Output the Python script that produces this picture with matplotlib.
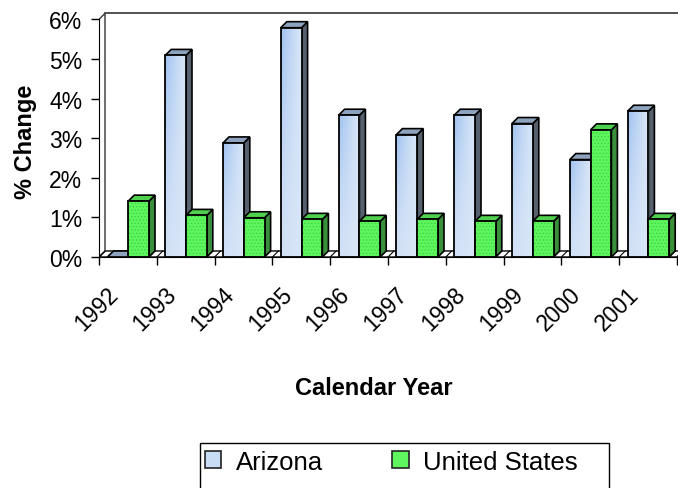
import numpy as np
import matplotlib
matplotlib.use("Agg")
import matplotlib.pyplot as plt
from matplotlib.patches import Polygon, Patch, Rectangle
from matplotlib.transforms import ScaledTranslation

plt.rcParams['font.family'] = ['Liberation Sans', 'DejaVu Sans']
plt.rcParams['hatch.linewidth'] = 0.6

# data (% change)
years = ['1992', '1993', '1994', '1995', '1996', '1997', '1998', '1999', '2000', '2001']
arizona = [0.0, 5.09, 2.88, 5.79, 3.58, 3.09, 3.58, 3.37, 2.46, 3.68]
united_states = [1.41, 1.05, 0.99, 0.95, 0.90, 0.95, 0.90, 0.90, 3.21, 0.95]
y_ticks = [0, 1, 2, 3, 4, 5, 6]
y_tick_labels = ['0%', '1%', '2%', '3%', '4%', '5%', '6%']

# 3d look: depth offset in data units
DX, DY = 0.104, 0.152
BW = 0.36
OFF = 0.145
n = len(years)

fig = plt.figure(figsize=(6.78, 4.89), dpi=100)
W, H = 678, 489
ax = fig.add_axes([99 / W, (H - 258) / H, (n + DX) * 57.8 / W, (6 + DY) * 39.6 / H])

# walls and floor
ax.add_patch(Polygon([(0, 0), (n, 0), (n + DX, DY), (DX, DY)], closed=True,
                     facecolor='white', edgecolor='black', lw=1.0, zorder=1))
ax.add_patch(Polygon([(0, 0), (0, 6), (DX, 6 + DY), (DX, DY)], closed=True,
                     facecolor='white', edgecolor='#333333', lw=1.0, zorder=1))
ax.plot([DX, n + DX + 1], [6 + DY, 6 + DY], color='#444444', lw=1.3, zorder=1, clip_on=False)
for i in range(n + 1):
    ax.plot([i, i + DX], [0, DY], color='black', lw=0.8, zorder=1.5)

light_az = np.array([0.85, 0.90, 0.97])
dark_az = np.array([0.62, 0.76, 0.94])
gx = np.linspace(0, 1, 40)[None, :]
gy = np.linspace(0, 1, 60)[:, None]
mix = (1 - gx) ** 1.2 * (0.15 + 0.85 * gy ** 1.5)
grad = light_az[None, None, :] + (dark_az - light_az)[None, None, :] * mix[..., None]
grad = grad[::-1]

z = 2
for i in range(n):
    for k, (vals, front, side, top) in enumerate([
            (arizona, '#d2e2f6', '#56606f', '#8ea3bd'),
            (united_states, '#5ef55e', '#3a8f3a', '#4fd04f')]):
        h = vals[i]
        x0 = i + OFF + k * BW
        x1 = x0 + BW
        ax.add_patch(Polygon([(x1, 0), (x1 + DX, DY), (x1 + DX, h + DY), (x1, h)], closed=True,
                             facecolor=side, edgecolor='black', lw=1.2, zorder=z))
        ax.add_patch(Polygon([(x0, h), (x1, h), (x1 + DX, h + DY), (x0 + DX, h + DY)], closed=True,
                             facecolor=top, edgecolor='black', lw=1.2, zorder=z + 0.1))
        if h > 0:
            bar = ax.bar(x0, h, width=BW, align='edge', color=front, lw=0, zorder=z + 0.2)[0]
            if k == 0:
                im = ax.imshow(grad, extent=[x0, x1, 0, h], aspect='auto', zorder=z + 0.3,
                               interpolation='bilinear')
                im.set_clip_path(bar)
            else:
                ax.bar(x0, h, width=BW, align='edge', fill=False, hatch='.....',
                       edgecolor='#3fd43f', lw=0, zorder=z + 0.3)
            ax.bar(x0, h, width=BW, align='edge', fill=False, edgecolor='black',
                   lw=1.3, zorder=z + 0.4)
        z += 1

ax.set_xlim(0, n + DX)
ax.set_ylim(0, 6 + DY)

for s in ['top', 'right']:
    ax.spines[s].set_visible(False)
ax.spines['left'].set_bounds(0, 6)
ax.spines['bottom'].set_bounds(0, n)
ax.spines['left'].set_zorder(50)
ax.spines['bottom'].set_zorder(50)

ax.set_yticks(y_ticks)
ax.set_yticklabels(y_tick_labels)
ax.set_xticks(range(n + 1))
ax.set_xticklabels([])
ax.tick_params(axis='both', direction='out', length=6, width=1, labelsize=16.5, pad=6)

# rotated year labels
shift = ScaledTranslation(-13 / 100, -33 / 100, fig.dpi_scale_trans)
for i, yr in enumerate(years):
    ax.text(i + 0.5, 0, yr, transform=ax.transData + shift, rotation=45,
            rotation_mode='anchor', ha='right', va='center', fontsize=16.5)

fig.text(25.5 / W, 1 - 142 / H, '% Change', rotation=90, ha='center', va='center',
         fontsize=17, fontweight='bold')
fig.text(374 / W, 1 - 389 / H, 'Calendar Year', ha='center', va='center',
         fontsize=17, fontweight='bold')

handles = [Patch(facecolor='#c8dcf4', edgecolor='#222222', lw=1.2),
           Patch(facecolor='#5ef55e', edgecolor='#222222', lw=1.2)]
fig.legend(handles, ['Arizona', 'United States'], loc='upper left',
           bbox_to_anchor=(205 / W, 1 - 451 / H), ncol=2, frameon=False, fontsize=18.5,
           handlelength=0.64, handleheight=0.64, handletextpad=0.55, columnspacing=2.7,
           borderpad=0, borderaxespad=0)
fig.add_artist(Rectangle((200 / W, -0.02), (609 - 200) / W, (489 - 444) / H + 0.02,
                         transform=fig.transFigure, fill=False, edgecolor='black', lw=1.0))

fig.savefig('out.png', dpi=100)
